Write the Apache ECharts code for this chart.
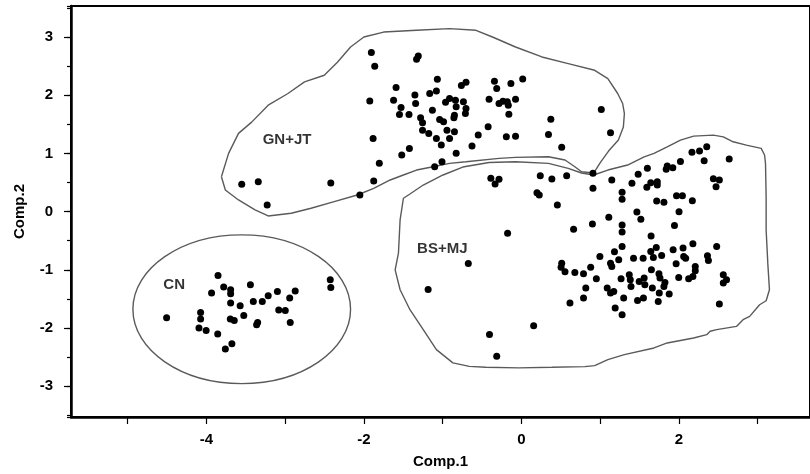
<!DOCTYPE html>
<html>
<head>
<meta charset="utf-8">
<script src="https://cdn.jsdelivr.net/npm/echarts@6/dist/echarts.min.js"></script>
<style>
  html, body { margin: 0; padding: 0; background: #fff; }
  #chart { width: 810px; height: 474px; }
</style>
</head>
<body>
<div id="chart"></div>
<script>
// Principal component scores (Comp.1, Comp.2) per group
const cnPoints = [
  [-3.853, -1.098], [-3.781, -1.297], [-3.935, -1.400], [-3.693, -1.343], [-3.693, -1.412],
  [-3.442, -1.257], [-3.693, -1.571], [-3.572, -1.617], [-3.405, -1.544], [-3.291, -1.544],
  [-3.216, -1.446], [-3.099, -1.372], [-2.873, -1.365], [-2.943, -1.485], [-2.428, -1.172],
  [-2.421, -1.304], [-4.506, -1.823], [-4.074, -1.732], [-4.074, -1.846], [-4.095, -2.000],
  [-4.004, -2.041], [-3.857, -2.103], [-3.697, -1.846], [-3.647, -1.870], [-3.526, -1.784],
  [-3.350, -1.904], [-3.363, -1.943], [-3.082, -1.691], [-2.999, -1.698], [-2.936, -1.904],
  [-3.677, -2.269], [-3.760, -2.360]
];

const gnjtPoints = [
  [-1.906, 2.734], [-1.863, 2.499], [-1.310, 2.676], [-1.332, 2.619], [-1.068, 2.276],
  [-0.763, 2.168], [-0.704, 2.225], [-0.343, 2.242], [-0.314, 2.117], [-0.134, 2.202],
  [0.016, 2.281], [-1.592, 2.134], [-1.353, 2.007], [-1.165, 2.031], [-1.080, 2.075],
  [-1.926, 1.904], [-1.624, 1.916], [-1.344, 1.859], [-1.529, 1.791], [-1.549, 1.671],
  [-1.428, 1.671], [-1.131, 1.744], [-0.964, 1.882], [-0.913, 1.945], [-0.838, 1.916],
  [-0.737, 1.887], [-0.829, 1.801], [-0.704, 1.774], [-0.712, 1.688], [-0.851, 1.659],
  [-0.858, 1.612], [-1.281, 1.612], [-1.256, 1.527], [-1.039, 1.585], [-0.989, 1.544],
  [-0.411, 1.933], [-0.285, 1.859], [-0.235, 1.899], [-0.180, 1.887], [-0.167, 1.830],
  [-0.075, 1.933], [-0.160, 1.676], [0.373, 1.590], [1.014, 1.756], [1.131, 1.355],
  [-1.256, 1.401], [-1.177, 1.345], [-1.080, 1.259], [-0.946, 1.401], [-0.851, 1.372],
  [-0.913, 1.259], [-1.018, 1.144], [-0.549, 1.316], [-0.423, 1.458], [-0.628, 1.127],
  [-0.829, 1.002], [-1.009, 0.858], [-1.102, 0.772], [-0.192, 1.286], [-0.075, 1.298],
  [0.343, 1.328], [0.511, 1.105], [-1.884, 1.259], [-1.423, 1.087], [-1.520, 0.973],
  [-1.805, 0.830], [-1.876, 0.527], [-2.052, 0.286], [-2.421, 0.492], [-3.552, 0.470],
  [-3.342, 0.515], [-3.229, 0.115]
];

const bsmjPoints = [
  [-0.389, 0.573], [-0.285, 0.556], [-0.335, 0.475], [0.239, 0.617], [0.386, 0.561],
  [0.574, 0.617], [0.197, 0.326], [0.226, 0.286], [0.456, 0.115], [-0.176, -0.370],
  [0.662, -0.302], [-0.675, -0.892], [-1.185, -1.338], [0.511, -0.885], [0.503, -0.954],
  [0.553, -1.034], [0.678, -1.046], [0.788, -1.069], [0.616, -1.571], [0.788, -1.485],
  [0.155, -1.961], [-0.406, -2.110], [-0.314, -2.487],
  [0.908, 0.659], [1.147, 0.544], [0.908, 0.401], [1.482, 0.642], [1.599, 0.744],
  [1.403, 0.487], [1.592, 0.419], [1.642, 0.497], [1.725, 0.515], [1.725, 0.458],
  [1.838, 0.727], [1.922, 0.755], [1.851, 0.784], [2.019, 0.864], [2.165, 1.019],
  [2.261, 1.041], [2.353, 1.115], [2.320, 0.875], [2.638, 0.904], [2.437, 0.566],
  [2.513, 0.544], [2.471, 0.429], [1.278, 0.333], [1.278, 0.213], [1.717, 0.184],
  [1.809, 0.161], [1.969, 0.274], [2.044, 0.274], [2.170, 0.189], [1.466, -0.005],
  [1.516, -0.130], [2.001, 0.000], [1.109, -0.096], [0.901, -0.211], [1.278, -0.228],
  [1.278, -0.348], [1.943, -0.240], [1.646, -0.417], [1.278, -0.600], [1.181, -0.691],
  [0.996, -0.772], [1.235, -0.828], [1.423, -0.799], [1.545, -0.799], [1.642, -0.686],
  [1.712, -0.617], [1.675, -0.789], [1.780, -0.755], [1.926, -0.657], [2.052, -0.623],
  [2.177, -0.554], [2.060, -0.772], [2.085, -0.799], [1.964, -0.897], [2.207, -0.943],
  [2.207, -1.017], [2.177, -1.115], [2.123, -1.154], [1.997, -1.132], [2.362, -0.760],
  [2.374, -0.840], [2.479, -0.600], [2.563, -1.086], [2.604, -1.172], [2.563, -1.228],
  [2.513, -1.588], [0.879, -0.954], [0.951, -1.154], [1.131, -0.885], [1.147, -0.943],
  [1.265, -1.154], [1.369, -1.086], [1.382, -1.172], [1.495, -1.201], [1.558, -1.142],
  [1.650, -1.000], [1.746, -1.069], [1.759, -1.142], [1.391, -1.286], [1.567, -1.257],
  [1.662, -1.314], [1.822, -1.218], [1.809, -1.286], [0.817, -1.314], [1.089, -1.314],
  [1.131, -1.400], [1.172, -1.372], [1.750, -1.400], [1.876, -1.417], [1.298, -1.485],
  [1.474, -1.527], [1.549, -1.485], [1.737, -1.544], [1.190, -1.657], [1.278, -1.772]
];

// Hand-drawn group boundaries, in score units
const gnjtOutline = [
  [-3.810, 0.600], [-3.719, 1.002], [-3.593, 1.345], [-3.426, 1.539], [-3.216, 1.830],
  [-2.965, 2.031], [-2.755, 2.230], [-2.504, 2.345], [-2.337, 2.568], [-2.170, 2.830],
  [-2.001, 3.002], [-1.750, 3.087], [-1.332, 3.117], [-0.913, 3.146], [-0.578, 3.117],
  [-0.368, 3.002], [-0.075, 2.830], [0.260, 2.659], [0.594, 2.545], [0.930, 2.430],
  [1.097, 2.288], [1.222, 2.031], [1.285, 1.859], [1.307, 1.688], [1.294, 1.453],
  [1.231, 1.230], [1.106, 1.041], [1.005, 0.852], [0.917, 0.664], [0.763, 0.686],
  [0.678, 0.772], [0.553, 0.887], [0.343, 0.943], [-0.075, 0.933], [-0.285, 0.916],
  [-0.704, 0.858], [-0.913, 0.830], [-1.122, 0.772], [-1.332, 0.715], [-1.499, 0.630],
  [-1.667, 0.544], [-1.876, 0.401], [-2.085, 0.286], [-2.378, 0.172], [-2.672, 0.058],
  [-2.923, -0.027], [-3.216, -0.074], [-3.383, 0.029], [-3.593, 0.201], [-3.760, 0.372],
  [-3.810, 0.600]
];

const bsmjOutline = [
  [0.917, 0.630], [1.097, 0.715], [1.348, 0.801], [1.558, 0.943], [1.683, 1.002],
  [1.851, 1.115], [2.019, 1.230], [2.186, 1.298], [2.437, 1.316], [2.563, 1.286],
  [2.688, 1.201], [2.856, 1.144], [3.044, 1.087], [3.087, 0.973], [3.099, 0.830],
  [3.107, 0.257], [3.107, -0.314], [3.128, -0.885], [3.149, -1.343], [3.107, -1.532],
  [3.024, -1.600], [2.898, -1.801], [2.814, -1.858], [2.730, -1.973], [2.479, -2.029],
  [2.396, -2.055], [2.353, -2.115], [2.186, -2.172], [1.851, -2.257], [1.683, -2.343],
  [1.307, -2.458], [1.097, -2.544], [0.930, -2.647], [0.804, -2.664], [0.386, -2.676],
  [-0.034, -2.686], [-0.452, -2.676], [-0.662, -2.659], [-0.871, -2.600], [-1.080, -2.372],
  [-1.247, -2.029], [-1.416, -1.686], [-1.541, -1.343], [-1.604, -1.000], [-1.562, -0.714],
  [-1.541, -0.142], [-1.499, 0.230], [-1.416, 0.304], [-1.247, 0.458], [-0.996, 0.630],
  [-0.745, 0.767], [-0.411, 0.844], [-0.075, 0.858], [0.343, 0.830], [0.594, 0.744],
  [0.763, 0.664], [0.917, 0.630]
];

// CN boundary: centre x, centre y, radius x, radius y
const cnEllipse = [[-3.552, -1.678, 1.382, 1.278]];

// Group names and where they are written
const groupLabels = [
  [-2.977, 1.230, 'GN+JT'],
  [-1.005, -0.640, 'BS+MJ'],
  [-4.410, -1.266, 'CN']
];

const xRange = [-5.72, 3.664];
const yRange = [-3.53, 3.535];

const FONT = '"Liberation Sans", Arial, sans-serif';
const OUTLINE = { color: '#5a5a5a', width: 1.4 };

const chart = echarts.init(document.getElementById('chart'), null, { renderer: 'canvas' });

function pointSeries(data) {
  return {
    type: 'scatter',
    data: data,
    symbol: 'circle',
    symbolSize: 7,
    itemStyle: { color: '#000', opacity: 1 },
    z: 5,
    silent: true
  };
}

function outlineSeries(data) {
  return {
    type: 'line',
    data: data,
    symbol: 'none',
    lineStyle: { color: OUTLINE.color, width: OUTLINE.width },
    z: 3,
    silent: true
  };
}

chart.setOption({
  animation: false,
  backgroundColor: '#fff',
  grid: {
    left: 71, right: -8, top: 6, bottom: 56,
    show: true, borderColor: '#000', borderWidth: 2, backgroundColor: 'transparent'
  },
  xAxis: {
    type: 'value',
    min: xRange[0], max: xRange[1],
    minInterval: 1, maxInterval: 1,
    name: 'Comp.1', nameLocation: 'middle', nameGap: 37,
    nameTextStyle: { fontFamily: FONT, fontWeight: 'bold', fontSize: 15, color: '#000' },
    axisLine: { show: true, onZero: false, lineStyle: { color: '#000', width: 2.5 } },
    axisTick: { show: true, length: 7, lineStyle: { color: '#000', width: 1.2 } },
    axisLabel: {
      margin: 15, fontFamily: FONT, fontWeight: 'bold', fontSize: 15, color: '#000',
      showMinLabel: false, showMaxLabel: false,
      formatter: v => (Number.isInteger(Math.round(v * 1000) / 1000) && Math.round(v) % 2 === 0) ? String(Math.round(v)) : ''
    },
    splitLine: { show: false }
  },
  yAxis: [
    {
      type: 'value',
      min: yRange[0], max: yRange[1],
      minInterval: 1, maxInterval: 1,
      name: 'Comp.2', nameLocation: 'middle', nameGap: 44, nameRotate: 90,
      nameTextStyle: { fontFamily: FONT, fontWeight: 'bold', fontSize: 15, color: '#000' },
      axisLine: { show: true, onZero: false, lineStyle: { color: '#000', width: 2.5 } },
      axisTick: { show: true, length: 7, lineStyle: { color: '#000', width: 1.2 } },
      axisLabel: {
        margin: 18, align: 'right', fontFamily: FONT, fontWeight: 'bold', fontSize: 15, color: '#000',
        showMinLabel: false, showMaxLabel: false,
        formatter: v => Number.isInteger(Math.round(v * 1000) / 1000) ? String(Math.round(v)) : ''
      },
      splitLine: { show: false }
    },
    {
      type: 'value',
      min: yRange[0], max: yRange[1],
      minInterval: 0.5, maxInterval: 0.5,
      position: 'left', offset: 0,
      axisLine: { show: false, onZero: false },
      axisTick: { show: true, length: 4, lineStyle: { color: '#000', width: 1.2 } },
      axisLabel: { show: false },
      splitLine: { show: false }
    }
  ],
  series: [
    outlineSeries(gnjtOutline),
    outlineSeries(bsmjOutline),
    {
      type: 'custom',
      data: cnEllipse,
      z: 3,
      silent: true,
      renderItem: (params, api) => {
        const c = api.coord([api.value(0), api.value(1)]);
        const r = api.size([api.value(2), api.value(3)]);
        return {
          type: 'ellipse',
          shape: { cx: c[0], cy: c[1], rx: r[0], ry: r[1] },
          style: { fill: 'none', stroke: OUTLINE.color, lineWidth: OUTLINE.width }
        };
      }
    },
    pointSeries(gnjtPoints),
    pointSeries(bsmjPoints),
    pointSeries(cnPoints),
    {
      type: 'scatter',
      data: groupLabels,
      symbolSize: 1,
      itemStyle: { color: 'rgba(0,0,0,0)' },
      z: 6,
      silent: true,
      label: {
        show: true, position: 'inside',
        formatter: p => p.value[2],
        fontFamily: FONT, fontWeight: 'bold', fontSize: 15, color: '#000'
      }
    }
  ]
});
</script>
</body>
</html>
